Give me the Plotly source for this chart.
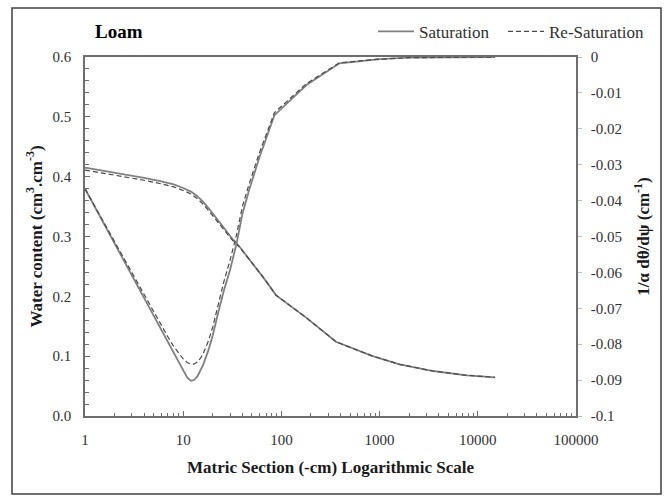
import plotly.graph_objects as go

# ---------------- data ----------------
# Water content (left axis, cm3/cm3)
h_theta = [1, 2, 3, 4, 6, 8, 10, 12, 14, 16, 18, 20, 25, 32, 37, 45, 55, 70, 88,
           180, 360, 850, 1600, 3500, 7700, 15000]
theta_sat = [0.415, 0.407, 0.402, 0.398, 0.392, 0.387, 0.381, 0.375, 0.367, 0.358,
             0.348, 0.339, 0.318, 0.295, 0.284, 0.266, 0.248, 0.225, 0.202,
             0.164, 0.124, 0.100, 0.0864, 0.0752, 0.068, 0.0646]
theta_resat = [0.411, 0.403, 0.398, 0.394, 0.388, 0.383, 0.377, 0.371, 0.363, 0.354,
               0.344, 0.335, 0.315, 0.293, 0.283, 0.266, 0.248, 0.225, 0.202,
               0.164, 0.124, 0.100, 0.0864, 0.0752, 0.068, 0.0646]

# 1/alpha dtheta/dpsi (right axis, cm-1)
h_deriv = [1, 2, 3, 4, 5, 6, 7, 8, 9, 10, 11, 12, 13, 14, 15, 16, 18, 20, 23, 26, 30,
           35, 40, 47, 60, 85, 180, 390, 1000, 2000, 15000]
deriv_sat = [-0.0367, -0.0519, -0.0609, -0.0672, -0.0721, -0.0762, -0.0795, -0.0824,
             -0.0852, -0.0875, -0.0893, -0.0902, -0.0899, -0.0889, -0.0874, -0.0857,
             -0.0818, -0.0775, -0.0706, -0.0650, -0.0593, -0.0519, -0.0438, -0.0370,
             -0.0278, -0.0162, -0.0078, -0.00175, -0.0006, -0.0002, 0.0]
deriv_resat = [-0.0367, -0.0515, -0.0600, -0.0662, -0.0708, -0.0747, -0.0780, -0.0806,
               -0.0826, -0.0841, -0.0851, -0.0856, -0.0855, -0.0849, -0.0839, -0.0826,
               -0.0792, -0.0752, -0.0684, -0.0625, -0.0566, -0.0494, -0.0417, -0.0353,
               -0.0265, -0.0155, -0.0074, -0.0016, -0.0006, -0.0002, 0.0]

series_names = ["Saturation", "Re-Saturation"]
x_tick_vals = [1, 10, 100, 1000, 10000, 100000]
x_tick_text = ["1", "10", "100", "1000", "10000", "100000"]
y_tick_vals = [0.0, 0.1, 0.2, 0.3, 0.4, 0.5, 0.6]
y_tick_text = ["0.0", "0.1", "0.2", "0.3", "0.4", "0.5", "0.6"]
y2_tick_vals = [0, -0.01, -0.02, -0.03, -0.04, -0.05, -0.06, -0.07, -0.08, -0.09, -0.1]
y2_tick_text = ["0", "-0.01", "-0.02", "-0.03", "-0.04", "-0.05", "-0.06", "-0.07",
                "-0.08", "-0.09", "-0.1"]

# ---------------- styling ----------------
FONT = "Liberation Serif"
SOLID = dict(color="#808080", width=1.8)
DASH = dict(color="#4a4a4a", width=1.2, dash="5px,3px")
AXIS_COL = "#6e6e6e"
TEXT_COL = "#303030"

fig = go.Figure()
fig.add_trace(go.Scatter(x=h_theta, y=theta_sat, mode="lines", line=SOLID,
                         name=series_names[0], legendgroup="s", showlegend=True,
                         legend="legend"))
fig.add_trace(go.Scatter(x=h_theta, y=theta_resat, mode="lines", line=DASH,
                         name=series_names[1], legendgroup="r", showlegend=True,
                         legend="legend2"))
fig.add_trace(go.Scatter(x=h_deriv, y=deriv_sat, mode="lines", line=SOLID, yaxis="y2",
                         name=series_names[0], legendgroup="s", showlegend=False))
fig.add_trace(go.Scatter(x=h_deriv, y=deriv_resat, mode="lines", line=DASH, yaxis="y2",
                         name=series_names[1], legendgroup="r", showlegend=False))

minor_x = [m * 10 ** d for d in range(0, 5) for m in range(2, 10)]

legend_style = dict(
    orientation="h", xanchor="left", y=1.07, yanchor="middle",
    font=dict(family=FONT, size=17, color=TEXT_COL),
    bgcolor="rgba(0,0,0,0)", itemwidth=36,
)

fig.update_layout(
    width=665, height=496,
    margin=dict(l=85, r=89, t=57, b=80),
    paper_bgcolor="white", plot_bgcolor="white",
    font=dict(family=FONT, size=15, color=TEXT_COL),
    xaxis=dict(
        type="log", range=[0, 5],
        tickmode="array", tickvals=x_tick_vals, ticktext=x_tick_text,
        ticks="inside", ticklen=5, tickwidth=1, tickcolor=AXIS_COL,
        minor=dict(tickmode="array", tickvals=minor_x, ticks="inside", ticklen=3,
                   tickwidth=1, tickcolor=AXIS_COL, showgrid=False),
        showline=True, linecolor=AXIS_COL, linewidth=1.5, mirror=True,
        showgrid=False, zeroline=False,
        ticklabelstandoff=9,
        tickfont=dict(family=FONT, size=15, color=TEXT_COL),
        title=dict(text="<b>Matric Section (-cm) Logarithmic Scale</b>",
                   font=dict(family=FONT, size=17, color="#1a1a1a"), standoff=14),
    ),
    yaxis=dict(
        range=[0, 0.6], tickmode="array", tickvals=y_tick_vals, ticktext=y_tick_text,
        ticks="inside", ticklen=5, tickwidth=1, tickcolor=AXIS_COL,
        minor=dict(dtick=0.02, ticks="inside", ticklen=4, tickwidth=1,
                   tickcolor=AXIS_COL, showgrid=False),
        showline=True, linecolor=AXIS_COL, linewidth=1.5,
        showgrid=False, zeroline=False,
        ticklabelstandoff=9,
        tickfont=dict(family=FONT, size=15, color=TEXT_COL),
        title=dict(text="<b>Water content (cm<sup>3</sup>.cm<sup>-3</sup>)</b>",
                   font=dict(family=FONT, size=17, color="#1a1a1a"), standoff=6),
    ),
    yaxis2=dict(
        overlaying="y", side="right", range=[-0.1, 0],
        tickmode="array", tickvals=y2_tick_vals, ticktext=y2_tick_text,
        ticks="outside", ticklen=4, tickwidth=1, tickcolor="#bfbfbf",
        showline=True, linecolor=AXIS_COL, linewidth=1.5,
        showgrid=False, zeroline=False,
        ticklabelstandoff=6,
        tickfont=dict(family=FONT, size=15, color=TEXT_COL),
        title=dict(text="<b>1/α dθ/dψ (cm<sup>-1</sup>)</b>",
                   font=dict(family=FONT, size=17, color="#1a1a1a"), standoff=16),
    ),
    legend=dict(x=(373 - 85) / 491, **legend_style),
    legend2=dict(x=(503 - 85) / 491, **legend_style),
    annotations=[dict(
        text="<b>Loam</b>", xref="paper", yref="paper",
        x=(93 - 85) / 491, y=(416 - 32) / 359, xanchor="left", yanchor="middle",
        showarrow=False, font=dict(family=FONT, size=19, color="#000000"),
    )],
    shapes=[dict(
        type="rect", xref="paper", yref="paper",
        x0=(12 - 85) / 491, x1=(661 - 85) / 491,
        y0=(416 - 494) / 359, y1=(416 - 8) / 359,
        line=dict(color="#404040", width=1.5), fillcolor="rgba(0,0,0,0)", layer="below",
    )],
)

fig.write_html("out.html")
